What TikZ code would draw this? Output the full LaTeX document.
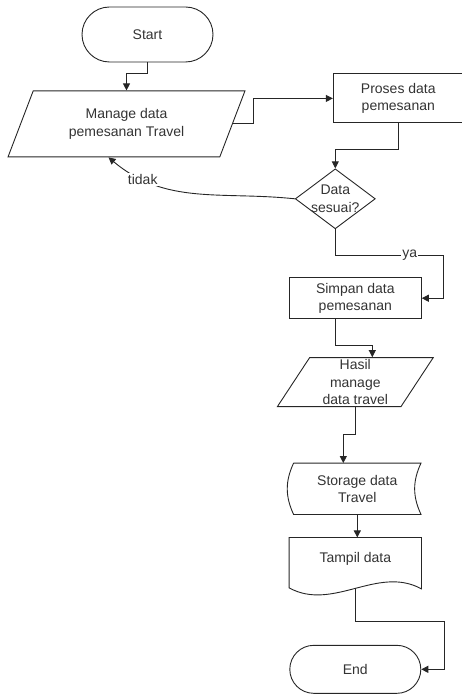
\documentclass[tikz,border=0pt]{standalone}
\usepackage{fontspec}
\setmainfont{Liberation Sans}
\usetikzlibrary{positioning,arrows.meta,shapes.geometric,shapes.misc}

\begin{document}
\begin{tikzpicture}[
  font=\fontsize{14}{17.5}\selectfont,
  every node/.style={text=black!80},
  wire/.style={draw=black!85, line width=0.9pt},
  arr/.style={wire, -{Triangle[length=7pt,width=7pt]}},
  term/.style={
    rounded rectangle, wire,
    minimum width=131pt, minimum height=48pt,
    inner sep=0pt
  },
  proc/.style={
    rectangle, wire,
    minimum width=131pt, minimum height=41pt,
    inner sep=0pt, align=center
  },
  io/.style={
    trapezium, trapezium left angle=63, trapezium right angle=117,
    trapezium stretches=true,
    wire, inner sep=0pt, align=center
  },
  decide/.style={
    diamond, wire,
    minimum width=80pt, minimum height=60pt,
    inner sep=0pt
  },
  plain/.style={
    rectangle, inner sep=0pt, align=center
  },
  lbl/.style={fill=white, inner sep=1pt}
]

\useasboundingbox (-147.5pt,34.5pt) rectangle (313.5pt,-660.5pt);

\node[term, minimum height=55pt] (start) {Start};
\node[io, minimum width=237pt, minimum height=66pt, below=28pt of start, xshift=-21pt] (manage) {Manage data\\pemesanan Travel};
\node[proc, minimum width=130pt, minimum height=49pt, right=100pt of manage, yshift=25.5pt] (proses) {Proses data\\pemesanan};
\node[decide, below=45pt of proses, xshift=-63pt, label={[align=center]center:Data\\sesuai?}] (dec) {};
\node[proc, minimum width=132pt, below=48pt of dec, xshift=20pt] (simpan) {Simpan data\\pemesanan};
\node[io, minimum width=156pt, minimum height=49pt, below=38pt of simpan] (hasil) {Hasil\\manage\\data travel};
\node[plain, minimum width=127pt, minimum height=51pt, below=56pt of hasil, xshift=2pt] (storage) {Storage data\\Travel};
\node[plain, minimum width=132pt, minimum height=43pt, below=23pt of storage, xshift=-2pt] (tampil) {Tampil data};
\node[term, below=64pt of tampil] (end) {End};

\draw[wire] (storage.north west) -- (storage.north east) to[bend right=25] (storage.south east) -- (storage.south west) to[bend left=25] (storage.north west);
\draw[wire] (tampil.north west) -- (tampil.north east) -- ([yshift=-8pt]tampil.south east) .. controls +(-44pt,24pt) and +(44pt,-24pt) .. ([yshift=-7pt]tampil.south west) -- cycle;

\draw[arr] (start.south) -- ++(0,-11pt) -| (manage.north);
\draw[arr] (manage.east) -- ++(21pt,0) |- (proses.west);
\draw[arr] (proses.south) -- ++(0,-26pt) -| (dec.north);
\draw[arr] (dec.west) to[out=174,in=-40] node[lbl,pos=0.8] {tidak} ([xshift=-18pt]manage.south);
\draw[arr] (dec.south) -- ++(0,-26pt) -- node[lbl,pos=0.69] {ya} ++(108pt,0) |- (simpan.east);
\draw[arr] ([xshift=-20pt]simpan.south) -- ++(0,-26pt) -| ([xshift=17pt]hasil.north);
\draw[arr] (hasil.south) -- ++(0,-27pt) -| ([xshift=-14pt]storage.north);
\draw[arr] (storage.south) -- (storage.south |- tampil.north);
\draw[arr] ([yshift=-7.5pt]tampil.south) -- ++(0,-33pt) -- ++(89pt,0) |- (end.east);

\end{tikzpicture}
\end{document}
